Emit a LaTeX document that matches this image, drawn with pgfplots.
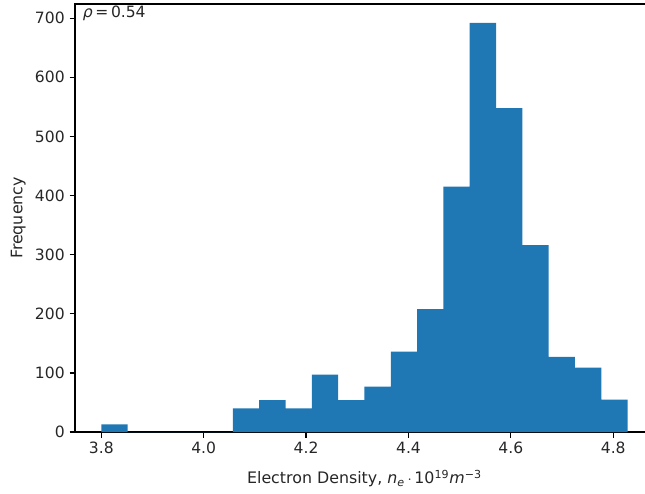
\documentclass[border=0pt]{standalone}
\usepackage{pgfplots}
\pgfplotsset{compat=1.18}
\usepackage{fontspec}
\setmainfont{DejaVu Sans}
\definecolor{mplblue}{HTML}{1F77B4}
\begin{document}
\begin{tikzpicture}
\begin{axis}[
  name=ax,
  scale only axis,
  width=416.8pt, height=308.2pt,
  xmin=3.7486, xmax=4.8794,
  ymin=0, ymax=724,
  xtick={3.8,4.0,4.2,4.4,4.6,4.8},
  ytick={0,100,200,300,400,500,600,700},
  xticklabels={3.8,4.0,4.2,4.4,4.6,4.8},
  tick align=outside,
  major tick length=3.9pt,
  xtick pos=bottom, ytick pos=left,
  tick style={black, line width=0.9pt},
  axis line style={black, line width=0.9pt},
  /pgf/number format/assume math mode=true,
  ticklabel style={font=\fontsize{11.2}{13}\selectfont, text=black!85},
  xlabel={Electron Density, \textit{n}\textsubscript{\textit{e}}\,$\cdot$\,10\textsuperscript{19}\textit{m}\textsuperscript{−3}},
  ylabel={Frequency},
  every axis x label/.style={at={(rel axis cs:0.5,0)}, anchor=base, yshift=-37.2pt, font=\fontsize{11.4}{13}\selectfont, text=black!85},
  every axis y label/.style={at={(rel axis cs:0,0.5)}, rotate=90, anchor=center, yshift=40.8pt, font=\fontsize{11.4}{13}\selectfont, text=black!85},
]
\addplot[ybar interval, fill=mplblue, draw=none] coordinates {
(3.8000,13) (3.8514,0) (3.9028,0) (3.9542,0) (4.0056,0)
(4.0570,40) (4.1084,54) (4.1598,40) (4.2112,97) (4.2626,54)
(4.3140,77) (4.3654,136) (4.4168,208) (4.4682,415) (4.5196,692)
(4.5710,548) (4.6224,316) (4.6738,127) (4.7252,109) (4.7766,55)
(4.8280,55)
};
\node[anchor=north west, inner sep=0pt, font=\fontsize{11.2}{13}\selectfont, text=black!85] at ([xshift=5.5pt,yshift=-1pt]rel axis cs:0,1) {\textit{ρ}\,=\,0.54};
\end{axis}
\pgfresetboundingbox
\path[use as bounding box] ([xshift=-54pt,yshift=-43.9pt]ax.south west) rectangle ([xshift=-6.4pt,yshift=2.9pt]ax.north east);
\end{tikzpicture}
\end{document}
